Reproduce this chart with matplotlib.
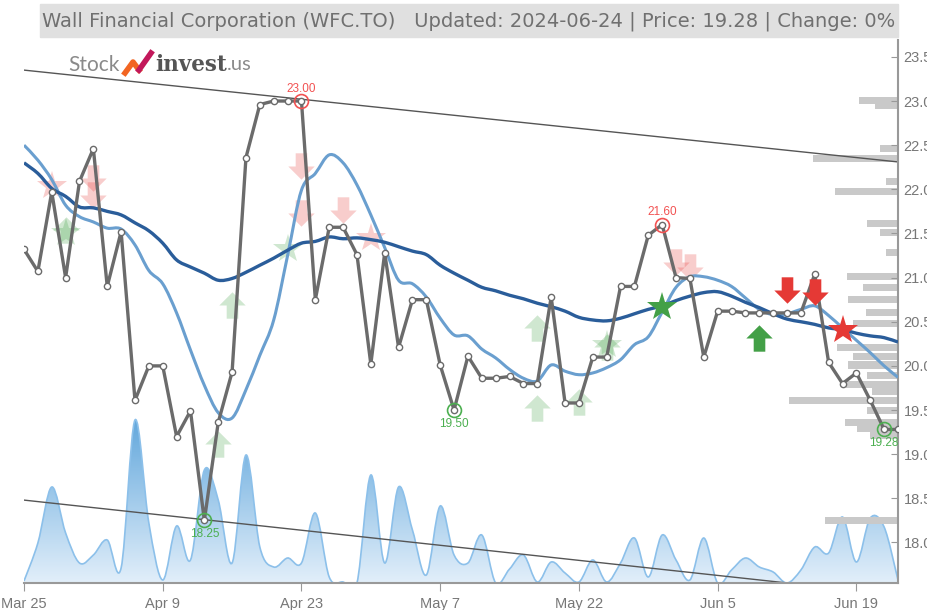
import matplotlib
matplotlib.use("Agg")
import matplotlib.pyplot as plt
import numpy as np
from matplotlib.path import Path
from matplotlib.patches import PathPatch, Rectangle
from matplotlib.colors import LinearSegmentedColormap
from matplotlib.lines import Line2D

plt.rcParams['font.family'] = ['Liberation Sans', 'DejaVu Sans']

# trading days, index 0 = Mar 25
tick_idx = [0, 10, 20, 30, 40, 50, 60]
tick_lbl = ['Mar 25', 'Apr 9', 'Apr 23', 'May 7', 'May 22', 'Jun 5', 'Jun 19']

price = [21.32, 21.07, 21.97, 21.00, 22.09, 22.46, 20.90, 21.52, 19.61, 20.00,
         20.00, 19.20, 19.49, 18.25, 19.36, 19.93, 22.36, 22.96, 23.00, 23.00,
         23.00, 20.75, 21.57, 21.57, 21.26, 20.02, 21.28, 20.21, 20.75, 20.75,
         20.01, 19.50, 20.11, 19.86, 19.86, 19.88, 19.80, 19.80, 20.78, 19.58,
         19.58, 20.10, 20.10, 20.90, 20.90, 21.48, 21.60, 21.00, 20.99, 20.10,
         20.62, 20.62, 20.60, 20.60, 20.60, 20.60, 20.60, 21.04, 20.04, 19.80,
         19.92, 19.61, 19.28, 19.28]

ma_short = [22.50, 22.33, 22.11, 21.82, 21.69, 21.63, 21.56, 21.55, 21.37, 21.08,
            20.93, 20.60, 20.18, 19.78, 19.47, 19.41, 19.73, 20.12, 20.52, 21.25,
            21.99, 22.18, 22.39, 22.30, 22.05, 21.71, 21.34, 20.97, 20.93, 20.78,
            20.54, 20.35, 20.34, 20.19, 20.09, 19.96, 19.86, 19.83, 20.01, 19.94,
            19.90, 19.92, 19.98, 20.07, 20.24, 20.33, 20.61, 20.89, 21.01, 21.01,
            20.97, 20.90, 20.77, 20.64, 20.58, 20.59, 20.64, 20.68, 20.57, 20.43,
            20.29, 20.15, 20.00, 19.87]

ma_long = [22.30, 22.18, 22.01, 21.92, 21.80, 21.79, 21.75, 21.71, 21.62, 21.53,
           21.39, 21.20, 21.12, 21.05, 20.97, 20.99, 21.06, 21.14, 21.22, 21.31,
           21.39, 21.41, 21.46, 21.44, 21.45, 21.43, 21.40, 21.35, 21.30, 21.26,
           21.14, 21.05, 20.97, 20.89, 20.85, 20.80, 20.76, 20.71, 20.67, 20.62,
           20.55, 20.52, 20.51, 20.54, 20.59, 20.64, 20.68, 20.74, 20.79, 20.83,
           20.84, 20.79, 20.72, 20.66, 20.59, 20.53, 20.50, 20.47, 20.43, 20.41,
           20.37, 20.34, 20.32, 20.27]

volume = [2, 40, 96, 50, 20, 28, 43, 15, 163, 60,
          3, 57, 23, 113, 83, 20, 128, 36, 16, 25,
          20, 70, 6, 1, 0, 108, 20, 96, 53, 8,
          77, 28, 20, 48, 0, 14, 28, 1, 21, 10,
          1, 23, 1, 20, 45, 6, 48, 23, 3, 45,
          0, 13, 25, 16, 11, 0, 13, 36, 30, 66,
          21, 65, 56, 3]

# trend channel end points (index, price)
upper_trend = ([0, 63], [23.35, 22.31])
lower_trend = ([0, 63], [18.48, 17.405])

# volume profile
profile_price = [23.01, 22.95, 22.46, 22.35, 22.09, 21.97, 21.61, 21.51, 21.28, 21.01,
                 20.89, 20.75, 20.60, 20.48, 20.21, 20.11, 20.01, 19.89, 19.79, 19.71,
                 19.61, 19.50, 19.36, 19.29, 19.21, 18.25]
profile_vol = [39, 23, 18, 85, 12, 63, 31, 18, 12, 51,
               35, 50, 32, 45, 61, 45, 50, 31, 52, 26,
               109, 31, 53, 41, 28, 73]

# signals
old_up_x = [3, 14, 15, 37, 37, 40, 42]
old_up_y = [21.54, 19.12, 20.69, 20.43, 19.52, 19.59, 20.21]
old_down_x = [5, 5, 20, 20, 23, 47, 48]
old_down_y = [22.13, 21.94, 22.26, 21.73, 21.77, 21.18, 21.12]
old_red_star_x = [2, 25]
old_red_star_y = [22.04, 21.45]
old_green_star_x = [3, 19, 42]
old_green_star_y = [21.50, 21.32, 20.24]
new_up_x, new_up_y = [53], [20.32]
new_down_x, new_down_y = [55, 57], [20.86, 20.84]
new_green_star_x, new_green_star_y = [46], [20.67]
new_red_star_x, new_red_star_y = [59], [20.41]

highs = [(20, 23.00), (46, 21.60)]
lows = [(13, 18.25), (31, 19.50), (62, 19.28)]

RED = '#e53935'
GREEN = '#43a047'

down_arrow = Path([(-0.22, 0.5), (0.22, 0.5), (0.22, 0.0), (0.5, 0.0), (0.0, -0.5),
                   (-0.5, 0.0), (-0.22, 0.0), (-0.22, 0.5)],
                  [Path.MOVETO] + [Path.LINETO] * 6 + [Path.CLOSEPOLY])
up_arrow = Path([(x, -y) for x, y in down_arrow.vertices], down_arrow.codes)


def spline_path(x, y, close_to=None):
    # curve through every data point (catmull-rom drawn as bezier segments)
    n = len(x)
    verts = [(x[0], y[0])]
    codes = [Path.MOVETO]
    for i in range(n - 1):
        a = max(i - 1, 0)
        b = min(i + 2, n - 1)
        verts += [(x[i] + (x[i + 1] - x[a]) / 6, y[i] + (y[i + 1] - y[a]) / 6),
                  (x[i + 1] - (x[b] - x[i]) / 6, y[i + 1] - (y[b] - y[i]) / 6),
                  (x[i + 1], y[i + 1])]
        codes += [Path.CURVE4] * 3
    if close_to is not None:
        verts += [(x[-1], close_to), (x[0], close_to), (x[0], close_to)]
        codes += [Path.LINETO, Path.LINETO, Path.CLOSEPOLY]
    return Path(verts, codes)


fig = plt.figure(figsize=(9.28, 6.10), dpi=100)
W, H = 928, 610
ax = fig.add_axes([24 / W, 27 / H, 874 / W, 543 / H])
ax.set_xlim(0, 63)
ax.set_ylim(17.541, 23.691)
idx = np.arange(len(price))

# volume on its own scale, behind everything
vax = ax.twinx()
vax.set_zorder(0)
ax.set_zorder(2)
ax.patch.set_visible(False)
vol_area = spline_path(idx, volume, close_to=0)
grad = np.linspace(0, 1, 256).reshape(-1, 1)
cmap = LinearSegmentedColormap.from_list('vol', ['#e6f1fb', '#5ea5db'])
img = vax.imshow(grad, extent=[0, 63, -5, 170], origin='lower', aspect='auto', cmap=cmap)
img.set_clip_path(vol_area, transform=vax.transData)
vax.add_patch(PathPatch(spline_path(idx, volume), fill=False, ec='#8cc0ea', lw=1.2))
vax.set_ylim(0, 543)
vax.set_xlim(0, 63)
vax.axis('off')

# volume profile bars growing from the right edge
pax = ax.twiny()
pax.set_zorder(1)
pax.patch.set_visible(False)
pax.barh(profile_price, profile_vol, height=0.08, color='#c9c9c9', lw=0)
pax.set_xlim(874, 0)
pax.axis('off')

# trend channel
ax.plot(*upper_trend, color='#555555', lw=1.0, zorder=2)
ax.plot(*lower_trend, color='#555555', lw=1.0, zorder=2)

# old signals
ax.plot(old_up_x, old_up_y, ls='none', marker=up_arrow, ms=19, color=GREEN, alpha=0.25, mew=0, zorder=1)
ax.plot(old_down_x, old_down_y, ls='none', marker=down_arrow, ms=19, color=RED, alpha=0.25, mew=0, zorder=1)
ax.plot(old_red_star_x, old_red_star_y, ls='none', marker='*', ms=22, color=RED, alpha=0.25, mew=0, zorder=1)
ax.plot(old_green_star_x, old_green_star_y, ls='none', marker='*', ms=22, color=GREEN, alpha=0.25, mew=0, zorder=1)

# moving averages and price
ax.add_patch(PathPatch(spline_path(idx, ma_short), fill=False, ec='#6a9fcf', lw=2.2, zorder=3))
ax.add_patch(PathPatch(spline_path(idx, ma_long), fill=False, ec='#2a5d9a', lw=2.4, zorder=3))
ax.plot(idx, price, color='#6b6b6b', lw=2.4, marker='o', ms=4.5, mfc='white',
        mec='#6b6b6b', mew=1, zorder=4)

# current signals
ax.plot(new_up_x, new_up_y, ls='none', marker=up_arrow, ms=19, color=GREEN, mew=0, zorder=5)
ax.plot(new_down_x, new_down_y, ls='none', marker=down_arrow, ms=19, color=RED, mew=0, zorder=5)
ax.plot(new_green_star_x, new_green_star_y, ls='none', marker='*', ms=22, color=GREEN, mew=0, zorder=5)
ax.plot(new_red_star_x, new_red_star_y, ls='none', marker='*', ms=22, color=RED, mew=0, zorder=5)

# high / low markers
for x, y in highs:
    ax.plot(x, y, marker='o', ms=10, mfc='none', mec='#f25252', mew=1.2, zorder=6)
    ax.annotate(f'{y:.2f}', (x, y), xytext=(0, 9), textcoords='offset points',
                ha='center', va='center', color='#f25252', fontsize=8.5, zorder=6)
for x, y in lows:
    ax.plot(x, y, marker='o', ms=10, mfc='none', mec='#4caf50', mew=1.2, zorder=6)
    ax.annotate(f'{y:.2f}', (x, y), xytext=(0, -10), textcoords='offset points',
                ha='center', va='center', color='#4caf50', fontsize=8.5, zorder=6)

# axes styling
for s in ['top', 'left']:
    ax.spines[s].set_visible(False)
for s in ['right', 'bottom']:
    ax.spines[s].set_color('#999999')
    ax.spines[s].set_linewidth(1.5)
ax.yaxis.tick_right()
ax.set_yticks(np.arange(18.0, 23.51, 0.5))
ax.set_yticklabels([f'{v:.1f}' for v in np.arange(18.0, 23.51, 0.5)])
ax.tick_params(axis='y', direction='in', length=5, color='#999999', labelcolor='#777777',
               labelsize=10.5, pad=4)
ax.set_xticks(tick_idx)
ax.set_xticklabels(tick_lbl)
ax.tick_params(axis='x', direction='out', length=6, color='#999999', labelcolor='#777777',
               labelsize=10.5, pad=4)

# title bar
fig.patches.append(Rectangle((40 / W, 1 - 37 / H), 858 / W, 33 / H, transform=fig.transFigure,
                             color='#e0e0e0', zorder=0))
fig.text(469 / W, 1 - 21 / H,
         'Wall Financial Corporation (WFC.TO)   Updated: 2024-06-24 | Price: 19.28 | Change: 0%',
         ha='center', va='center', color='#707070', fontsize=14,
         family=['Liberation Sans Narrow', 'DejaVu Sans'])

# logo
fig.text(68 / W, 1 - 65 / H, 'Stock', ha='left', va='center', color='#8a8a8a', fontsize=15,
         family=['Lato', 'DejaVu Sans'])
fig.lines.append(Line2D([125 / W, 133 / W, 139 / W], [1 - 73 / H, 1 - 62 / H, 1 - 70 / H],
                        transform=fig.transFigure, color='#f26522', lw=4))
fig.lines.append(Line2D([139 / W, 151 / W], [1 - 70 / H, 1 - 53 / H],
                        transform=fig.transFigure, color='#c2185b', lw=4))
fig.text(155 / W, 1 - 65 / H, 'invest', ha='left', va='center', color='#555555', fontsize=15.5,
         fontweight='bold', family=['DejaVu Serif'])
fig.text(227 / W, 1 - 65 / H, '.us', ha='left', va='center', color='#8a8a8a', fontsize=14.5,
         family=['Lato', 'DejaVu Sans'])

fig.savefig('out.png', dpi=100)
